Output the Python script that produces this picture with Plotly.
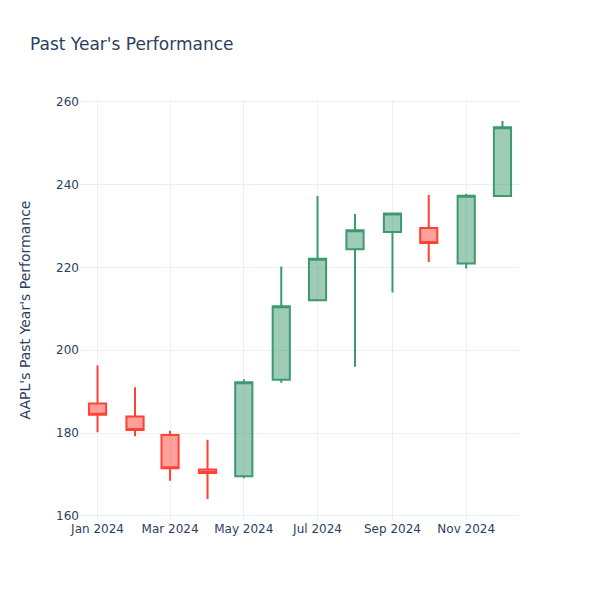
import plotly.graph_objects as go

dates = ["2024-01-01", "2024-02-01", "2024-03-01", "2024-04-01", "2024-05-01", "2024-06-01",
         "2024-07-01", "2024-08-01", "2024-09-01", "2024-10-01", "2024-11-01", "2024-12-01"]
opens = [187.15, 183.99, 179.55, 171.19, 169.58, 192.90, 212.09, 224.37, 228.55, 229.52, 220.97, 237.27]
highs = [196.38, 191.05, 180.53, 178.36, 193.00, 220.20, 237.23, 232.92, 233.09, 237.49, 237.81, 255.35]
lows = [180.17, 179.25, 168.49, 164.08, 169.11, 192.15, 211.92, 196.00, 213.92, 221.33, 219.71, 237.16]
closes = [184.40, 180.75, 171.48, 170.33, 192.25, 210.62, 222.08, 229.00, 233.00, 225.91, 237.33, 253.85]

fig = go.Figure(go.Candlestick(x=dates, open=opens, high=highs, low=lows, close=closes))
fig.update_layout(
    template="plotly_white",
    width=600, height=600,
    font=dict(family="DejaVu Sans"),
    title=dict(text="Past Year's Performance"),
    yaxis=dict(title=dict(text="AAPL's Past Year's Performance", standoff=22)),
    xaxis_rangeslider_visible=False,
)
fig.write_html("out.html", post_script="document.body.style.margin='0';",
               config={"displayModeBar": False})
